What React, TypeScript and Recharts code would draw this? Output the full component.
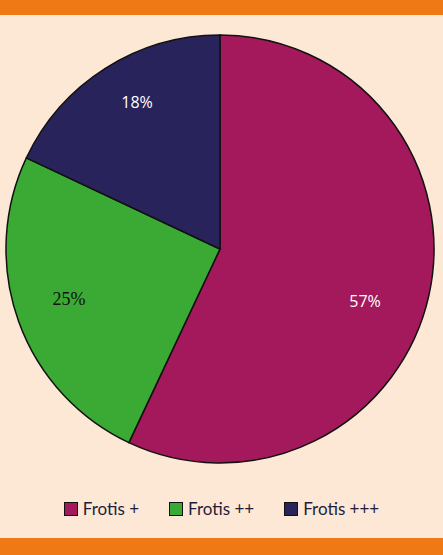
import { PieChart, Pie, Cell } from "recharts";

const categories = ["Frotis +", "Frotis ++", "Frotis +++"];
const shares = [57, 25, 18];
const sliceColors = ["#a3195b", "#3aaa35", "#29235c"];

// label tweaks per slice: [radius, angle shift in degrees]
const labelTweak = [
  [154, -7],
  [159, -1.5],
  [169, -3],
];

const data = categories.map((name, i) => ({ name, value: shares[i] }));

const renderLabel = (props: any) => {
  const { cx, cy, midAngle, index, value } = props;
  const [r, shift] = labelTweak[index];
  const a = ((midAngle + shift) * Math.PI) / 180;
  const x = cx + r * Math.cos(a);
  const y = cy - r * Math.sin(a);
  const serif = index === 1;
  return (
    <text
      x={x}
      y={y}
      textAnchor="middle"
      dominantBaseline="central"
      fill={serif ? "#111" : "#ffffff"}
      fontSize={serif ? 18 : 16}
      fontWeight={400}
      style={{ fontFamily: serif ? "Liberation Serif, Times New Roman, serif" : "Open Sans, sans-serif" }}
    >
      {value}%
    </text>
  );
};

export default function App() {
  return (
    <div
      style={{
        position: "absolute",
        top: 0,
        left: 0,
        width: 443,
        height: 555,
        background: "#fde7d5",
        overflow: "hidden",
      }}
    >
      <div style={{ position: "absolute", top: 0, left: 0, width: 443, height: 15, background: "#ef7a15" }} />
      <div style={{ position: "absolute", top: 538, left: 0, width: 443, height: 17, background: "#ef7a15" }} />
      <div style={{ position: "absolute", top: 537, left: 0, width: 443, height: 1, background: "#fbe9dc" }} />
      <PieChart width={443} height={555} margin={{ top: 0, right: 0, bottom: 0, left: 0 }}>
        <Pie
          data={data}
          dataKey="value"
          nameKey="name"
          cx={220}
          cy={249}
          outerRadius={214}
          startAngle={90}
          endAngle={-270}
          stroke="#111"
          strokeWidth={1.5}
          label={renderLabel}
          labelLine={false}
          isAnimationActive={false}
        >
          {data.map((d, i) => (
            <Cell key={d.name} fill={sliceColors[i]} />
          ))}
        </Pie>
      </PieChart>
      {/* legend */}
      <div
        style={{
          position: "absolute",
          top: 498,
          left: 0,
          width: 443,
          display: "flex",
          justifyContent: "center",
          gap: 30,
          fontFamily: "Lato, sans-serif",
          fontSize: 17,
          color: "#1e1e3a",
        }}
      >
        {categories.map((c, i) => (
          <div key={c} style={{ display: "flex", alignItems: "center", gap: 5 }}>
            <span
              style={{
                width: 12,
                height: 12,
                background: sliceColors[i],
                border: "1px solid #111",
                display: "inline-block",
              }}
            />
            <span>{c}</span>
          </div>
        ))}
      </div>
    </div>
  );
}
